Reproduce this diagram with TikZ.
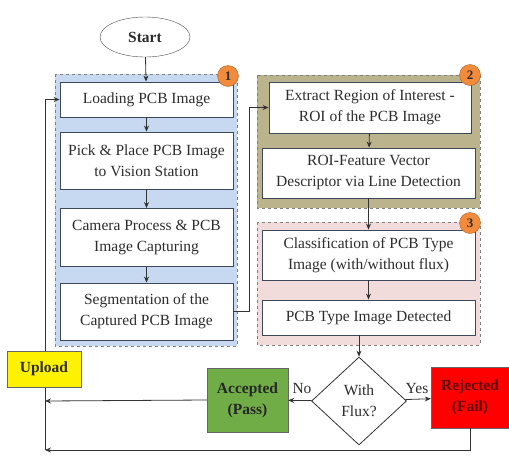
\documentclass[tikz,border=0pt]{standalone}
\usepackage{fontspec}
\setmainfont{Liberation Serif}
\usetikzlibrary{positioning}
\usetikzlibrary{shapes.geometric}
\usetikzlibrary{arrows.meta}

\definecolor{frameblue}{RGB}{62,72,92}
\definecolor{groupblue}{RGB}{198,217,241}
\definecolor{groupolive}{RGB}{186,179,140}
\definecolor{grouppink}{RGB}{242,220,219}
\definecolor{badgeorange}{RGB}{242,140,60}
\definecolor{passgreen}{RGB}{112,173,71}
\definecolor{textgray}{RGB}{45,45,45}

\begin{document}
\begin{tikzpicture}[x=1pt, y=-1pt,
    every node/.style={font=\fontsize{15.5}{21}\selectfont, text=textgray, align=center, inner sep=0pt},
    stepbox/.style={draw=frameblue, fill=white, line width=0.9pt},
    groupbox/.style={draw=gray, dashed, line width=0.7pt},
    boldtext/.style={font=\fontsize{15.5}{21}\selectfont\bfseries},
    badge/.style={circle, draw=badgeorange!70!black, fill=badgeorange, minimum size=21pt, font=\fontsize{13}{13}\selectfont\bfseries},
    flow/.style={-{Stealth[length=6pt,width=5pt]}, line width=0.8pt, draw=black!80}]
  \useasboundingbox (0,0) rectangle (509,461);

  % Groups
  \draw[groupbox, fill=groupblue] (55,74) rectangle (237,346);
  \draw[groupbox, fill=groupolive] (257,75) rectangle (480,208);
  \draw[groupbox, fill=grouppink] (257,222) rectangle (480,345);

  % Nodes
  \node[draw=black!70, ellipse, fill=white, minimum width=90pt, minimum height=40pt, boldtext] (start) at (145,37) {Start};
  \node[stepbox, minimum width=173pt, minimum height=35pt] (load) at (146.5,99.5) {Loading PCB Image};
  \node[stepbox, minimum width=173pt, minimum height=57pt] (pick) at (146.5,160.5) {Pick \& Place PCB Image\\to Vision Station};
  \node[stepbox, minimum width=173pt, minimum height=58pt] (cam) at (146.5,237.5) {Camera Process \& PCB\\Image Capturing};
  \node[stepbox, minimum width=173pt, minimum height=57pt] (seg) at (146.5,311.5) {Segmentation of the\\Captured PCB Image};
  \node[stepbox, minimum width=202pt, minimum height=51pt] (roi) at (370,107.5) {Extract Region of Interest -\\ROI of the PCB Image};
  \node[stepbox, minimum width=213pt, minimum height=50pt] (feat) at (368.5,173) {ROI-Feature Vector\\Descriptor via Line Detection};
  \node[stepbox, minimum width=213pt, minimum height=50pt] (cls) at (368.5,255) {Classification of PCB Type\\Image (with/without flux)};
  \node[stepbox, minimum width=213pt, minimum height=35pt] (det) at (368.5,317.5) {PCB Type Image Detected};
  \node[draw=black!80, diamond, fill=white, line width=0.8pt, minimum width=95pt, minimum height=88pt] (flux) at (359,401) {With\\Flux?};
  \node[draw=black!60, fill=passgreen, minimum width=81pt, minimum height=64pt, boldtext, text=black!85] (pass) at (247.5,400) {Accepted\\(Pass)};
  \node[draw=black!60, fill=red, minimum width=78pt, minimum height=61pt, boldtext, text=red!35!black] (fail) at (470,397.5) {Rejected\\(Fail)};
  \node[badge] (b1) at (228,76) {1};
  \node[badge] (b2) at (470,75) {2};
  \node[badge] (b3) at (470,223) {3};
  \node (no) at (302,388) {No};
  \node (yes) at (417,388) {Yes};
  \coordinate (back1) at (45,401);
  \coordinate (back2) at (45,450);

  % Edges
  \draw[flow] (start) -- (load);
  \draw[flow] (load) -- (pick);
  \draw[flow] (pick) -- (cam);
  \draw[flow] (cam) -- (seg);
  \draw[flow] (seg.east) -- ++(16,0) |- (roi.west);
  \draw[flow] (roi) -- (feat);
  \draw[flow] (feat) -- (cls);
  \draw[flow] (cls) -- (det);
  \draw[flow] (det.south -| flux.north) -- (flux.north);
  \draw[flow] (flux) -- (pass);
  \draw[flow] (flux) -- (fail);
  \draw[flow] (pass.west) -- (back1);
  \draw[flow] (fail.south) |- (back2);
  \draw[flow] (back2) |- (load.west);

  % Upload sits on the return line
  \node[draw=black!60, fill=yellow, minimum width=74pt, minimum height=36pt, boldtext] (upload) at (44,369) {Upload};
\end{tikzpicture}
\end{document}
